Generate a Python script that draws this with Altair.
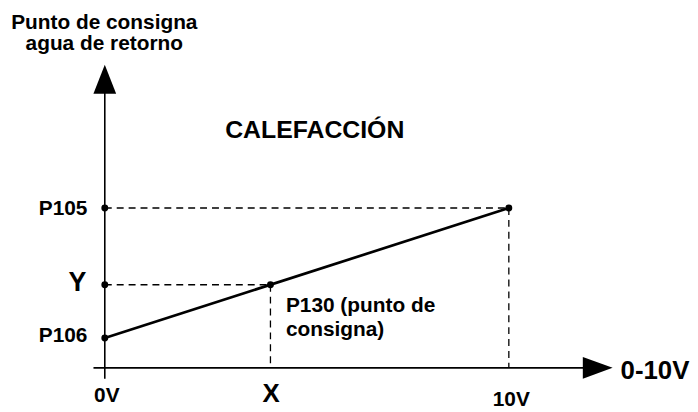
import altair as alt
import pandas as pd

# ---- data ----
volt_labels = ["0V", "X", "10V"]
volt_values = [0.0, 4.1, 10.0]
sp_labels = ["P106", "Y", "P105"]
sp_values = [0.0, 4.1, 10.0]
y_title = ["Punto de consigna", "agua de retorno"]
x_title = "0-10V"
mode_label = "CALEFACCIÓN"
point_label = ["P130 (punto de", "consigna)"]

# axis extents (data units)
x_axis_ext = [-0.28, 12.2]
y_axis_ext = [-3.13, 19.9]
x_axis_level = -2.29

FONT = "Liberation Sans"

xs = alt.Scale(domain=[-2.3956, 14.361], nice=False, zero=False)
ys = alt.Scale(domain=[-4.962, 25.267], nice=False, zero=False)


def X(f="x"):
    return alt.X(f"{f}:Q", scale=xs, axis=None)


def Y(f="y"):
    return alt.Y(f"{f}:Q", scale=ys, axis=None)


layers = []

# axes lines
axes_df = pd.DataFrame({
    "x": [x_axis_ext[0], 0.0],
    "x2": [x_axis_ext[1], 0.0],
    "y": [x_axis_level, y_axis_ext[0]],
    "y2": [x_axis_level, y_axis_ext[1]],
})
layers.append(alt.Chart(axes_df).mark_rule(color="black", strokeWidth=1.6).encode(
    x=X(), x2="x2:Q", y=Y(), y2="y2:Q"))

# arrow heads
layers.append(alt.Chart(pd.DataFrame({"x": [0.0], "y": [y_axis_ext[1]]})).mark_point(
    shape="M0,-1L0.79,1L-0.79,1Z", size=841, filled=True, color="black", opacity=1,
    strokeWidth=0).encode(x=X(), y=Y()))
layers.append(alt.Chart(pd.DataFrame({"x": [x_axis_ext[1]], "y": [x_axis_level]})).mark_point(
    shape="M1,0L-1,-0.73L-1,0.73Z", size=900, filled=True, color="black", opacity=1,
    strokeWidth=0).encode(x=X(), y=Y()))

# dashed guides
guide_df = pd.DataFrame({
    "x": [0.0, 0.0, volt_values[1], volt_values[2]],
    "x2": [volt_values[1], volt_values[2], volt_values[1], volt_values[2]],
    "y": [sp_values[1], sp_values[2], sp_values[1], sp_values[2]],
    "y2": [sp_values[1], sp_values[2], x_axis_level, x_axis_level],
})
layers.append(alt.Chart(guide_df).mark_rule(color="black", strokeWidth=1.3, strokeDash=[7, 5]).encode(
    x=X(), x2="x2:Q", y=Y(), y2="y2:Q"))

# main line
line_df = pd.DataFrame({"x": [volt_values[0], volt_values[2]], "y": [sp_values[0], sp_values[2]]})
layers.append(alt.Chart(line_df).mark_line(color="black", strokeWidth=2.7).encode(x=X(), y=Y()))

# points
pts_df = pd.DataFrame({
    "x": [0.0, 0.0, 0.0, volt_values[1], volt_values[2]],
    "y": [sp_values[0], sp_values[1], sp_values[2], sp_values[1], sp_values[2]],
})
layers.append(alt.Chart(pts_df).mark_circle(color="black", size=48, opacity=1).encode(x=X(), y=Y()))


def txt(text, x, y, size, dx=0, dy=0, align="center"):
    return alt.Chart(pd.DataFrame({"x": [x], "y": [y], "t": [text]})).mark_text(
        font=FONT, fontWeight="bold", fontSize=size, color="black", align=align,
        baseline="alphabetic", dx=dx, dy=dy).encode(x=X(), y=Y(), text="t:N")


# y labels
layers.append(txt(sp_labels[0], 0.0, sp_values[0], 21, dx=-17.5, dy=4, align="right"))
layers.append(txt(sp_labels[1], 0.0, sp_values[1], 27, dx=-18.5, dy=6.5, align="right"))
layers.append(txt(sp_labels[2], 0.0, sp_values[2], 21, dx=-17.5, dy=7, align="right"))

# x labels
layers.append(txt(volt_labels[0], volt_values[0], x_axis_level, 21, dx=2, dy=34))
layers.append(txt(volt_labels[1], volt_values[1], x_axis_level, 26, dx=0.6, dy=34))
layers.append(txt(volt_labels[2], volt_values[2], x_axis_level, 21, dx=2.5, dy=38))

# axis titles
layers.append(txt(x_title, x_axis_ext[1], x_axis_level, 26, dx=23, dy=11.7, align="left"))
layers.append(txt(y_title[0], 0.0, y_axis_ext[1], 21, dx=-0.5, dy=-50.5))
layers.append(txt(y_title[1], 0.0, y_axis_ext[1], 21, dx=-0.5, dy=-29.5))

# headline and point label
layers.append(txt(mode_label, 5.0, 15.4, 25, dx=8, dy=0))
layers.append(txt(point_label[0], volt_values[1], sp_values[1], 21, dx=15.6, dy=27.5, align="left"))
layers.append(txt(point_label[1], volt_values[1], sp_values[1], 21, dx=15.6, dy=51.8, align="left"))

chart = alt.layer(*layers).properties(
    width=682, height=396, padding=0, background="white"
).configure_view(stroke=None)

chart.save("out.html", embed_options={"renderer": "svg", "actions": False})
